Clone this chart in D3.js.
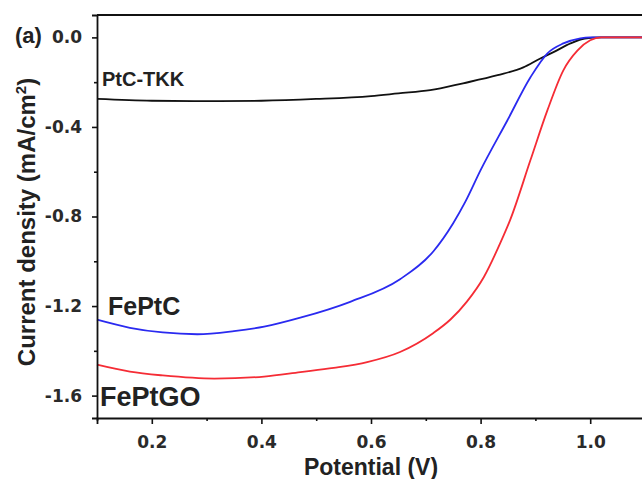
<!DOCTYPE html>
<html>
<meta charset="utf-8">
<script src="https://d3js.org/d3.v7.min.js"></script>
<style>
  body { margin: 0; background: #fff; }
  text { font-family: "Liberation Sans", Arial, sans-serif; font-weight: bold; }
</style>
<body>
<div id="vis"></div>
<script>
// potential (V) and current density (mA/cm2)
var ptcV = [0.10, 0.20, 0.30, 0.40, 0.50, 0.60, 0.65, 0.708, 0.768, 0.831, 0.878, 0.909, 0.933, 0.964, 0.99, 1.02, 1.10];
var ptcJ = [-0.275, -0.283, -0.285, -0.283, -0.275, -0.262, -0.25, -0.236, -0.205, -0.169, -0.134, -0.094, -0.066, -0.027, -0.005, 0.0, 0.0];

var feptcV = [0.10, 0.16, 0.22, 0.283, 0.35, 0.405, 0.471, 0.562, 0.653, 0.714, 0.75, 0.772, 0.80, 0.849, 0.891, 0.922, 0.951, 0.982, 1.0, 1.10];
var feptcJ = [-1.261, -1.297, -1.318, -1.326, -1.312, -1.292, -1.252, -1.181, -1.08, -0.955, -0.83, -0.735, -0.593, -0.37, -0.178, -0.071, -0.027, -0.004, 0.0, 0.0];

var feptgoV = [0.10, 0.16, 0.22, 0.314, 0.405, 0.471, 0.532, 0.593, 0.653, 0.714, 0.745, 0.775, 0.806, 0.836, 0.854, 0.891, 0.922, 0.951, 0.977, 1.0, 1.02, 1.10];
var feptgoJ = [-1.462, -1.493, -1.51, -1.524, -1.515, -1.495, -1.476, -1.45, -1.405, -1.32, -1.26, -1.18, -1.07, -0.918, -0.815, -0.548, -0.325, -0.147, -0.058, -0.013, 0.0, 0.0];

var xTicks = [0.2, 0.4, 0.6, 0.8, 1.0];
var xMinor = [0.1, 0.3, 0.5, 0.7, 0.9, 1.1];
var yTicks = [0.0, -0.4, -0.8, -1.2, -1.6];
var yMinor = [-0.2, -0.6, -1.0, -1.4];

var total_width = 642, total_height = 479;
var margin = {top: 15, right: -3, bottom: 61, left: 97};
var width = total_width - margin.left - margin.right,
    height = total_height - margin.top - margin.bottom;

var svg = d3.select("#vis").append("svg")
    .attr("width", total_width)
    .attr("height", total_height)
  .append("g")
    .attr("transform", "translate(" + margin.left + "," + margin.top + ")");

var x = d3.scaleLinear().domain([0.1, 1.1]).range([0, width]);
var y = d3.scaleLinear().domain([-1.7, 0.1]).range([height, 0]);

// plain hyphen minus, like the original
var fmt = function(d) { return d.toFixed(1); };

// curves
var series = [
  {v: ptcV, j: ptcJ, color: "#111"},
  {v: feptcV, j: feptcJ, color: "#2a2af0"},
  {v: feptgoV, j: feptgoJ, color: "#f52c35"}
];
var line = d3.line()
  .x(function(d) { return x(d[0]); })
  .y(function(d) { return y(d[1]); })
  .curve(d3.curveMonotoneX);

svg.append("g")
  .selectAll("path")
  .data(series)
  .enter().append("path")
    .attr("d", function(s) { return line(s.v.map(function(v, i) { return [v, s.j[i]]; })); })
    .attr("fill", "none")
    .attr("stroke", function(s) { return s.color; })
    .attr("stroke-width", 1.8);

// axes
svg.append("g")
  .attr("transform", "translate(0," + height + ")")
  .call(d3.axisBottom(x).tickValues(xTicks).tickFormat(fmt).tickSize(6).tickPadding(12));
svg.append("g")
  .attr("transform", "translate(0," + height + ")")
  .call(d3.axisBottom(x).tickValues(xMinor).tickFormat("").tickSize(3))
  .select(".domain").remove();

svg.append("g")
  .call(d3.axisLeft(y).tickValues(yTicks).tickFormat(fmt).tickSize(5).tickPadding(10));
svg.append("g")
  .call(d3.axisLeft(y).tickValues(yMinor).tickFormat("").tickSize(3))
  .select(".domain").remove();

svg.selectAll(".domain").attr("stroke", "#111").attr("stroke-width", 1.8);
svg.selectAll(".tick line").attr("stroke", "#111").attr("stroke-width", 1.6);
svg.selectAll(".tick text")
  .style("font-family", "'DejaVu Sans', sans-serif")
  .style("font-size", "17px")
  .attr("fill", "#2a2a2a");

// top frame line
svg.append("line")
  .attr("x1", 0).attr("x2", width)
  .attr("y1", 0).attr("y2", 0)
  .attr("stroke", "#111").attr("stroke-width", 1.8);

// axis titles
svg.append("text")
  .attr("x", x(0.6))
  .attr("y", height + 57)
  .attr("text-anchor", "middle")
  .style("font-size", "23px")
  .attr("fill", "#222")
  .text("Potential (V)");

var yt = svg.append("text")
  .attr("transform", "translate(-62,207) rotate(-90)")
  .attr("text-anchor", "middle")
  .style("font-size", "24px")
  .attr("fill", "#222");
yt.append("tspan").text("Current density (mA/cm");
yt.append("tspan").attr("dy", -9).style("font-size", "15px").text("2");
yt.append("tspan").attr("dy", 9).text(")");

// labels
svg.append("text").attr("x", -82).attr("y", 28).style("font-size", "22px").attr("fill", "#222").text("(a)");
svg.append("text").attr("x", 5).attr("y", 71).style("font-size", "20px").attr("fill", "#222").text("PtC-TKK");
svg.append("text").attr("x", 11).attr("y", 300).style("font-size", "25px").attr("fill", "#222").text("FePtC");
svg.append("text").attr("x", 3).attr("y", 391).style("font-size", "27px").attr("fill", "#222").text("FePtGO");
</script>
</body>
</html>
